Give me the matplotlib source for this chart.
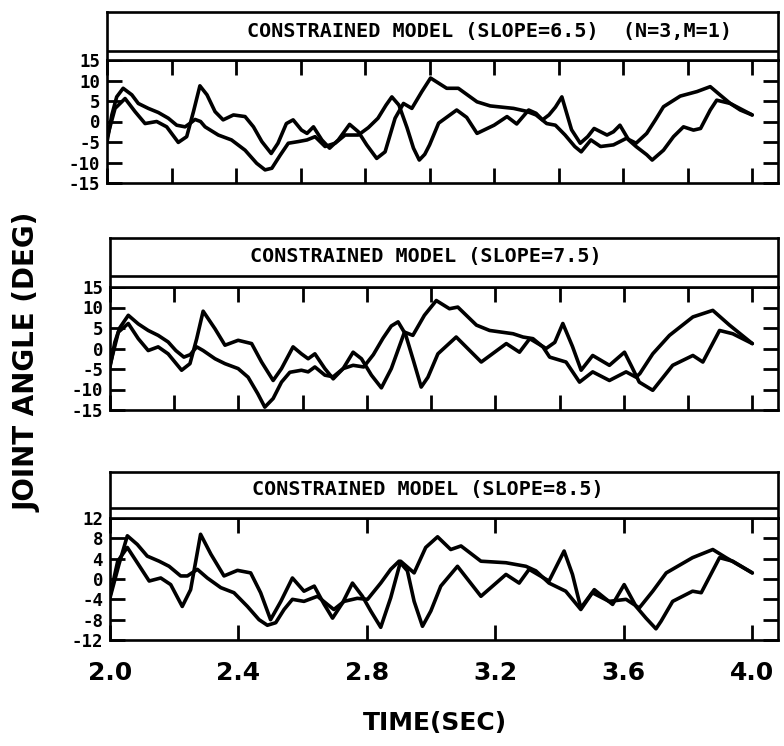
import matplotlib
matplotlib.use('Agg')
import matplotlib.pyplot as plt
from matplotlib.transforms import ScaledTranslation

# ---- data (time in s, joint angle in deg) ----
titles = ['CONSTRAINED MODEL (SLOPE=6.5)  (N=3,M=1)',
          'CONSTRAINED MODEL (SLOPE=7.5)',
          'CONSTRAINED MODEL (SLOPE=8.5)']

t_a1 = [2.00, 2.015, 2.03, 2.05, 2.077, 2.097, 2.128, 2.159, 2.19, 2.216, 2.242, 2.26, 2.273, 2.29, 2.304,
        2.345, 2.386, 2.428, 2.464, 2.49, 2.511, 2.537, 2.562, 2.593, 2.62, 2.645, 2.676, 2.707, 2.738, 2.779,
        2.81, 2.84, 2.865, 2.883, 2.905, 2.93, 2.95, 2.968, 2.985, 3.0, 3.028, 3.084, 3.115, 3.147, 3.2,
        3.24, 3.27, 3.307, 3.33, 3.35, 3.37, 3.39, 3.41, 3.44, 3.467, 3.49, 3.51, 3.55, 3.57, 3.59,
        3.617, 3.64, 3.673, 3.69, 3.725, 3.756, 3.787, 3.818, 3.84, 3.87, 3.89, 3.932, 3.963, 4.0]
a_a1 = [-5.0, 1.6, 6.0, 8.1, 6.5, 4.4, 3.2, 2.2, 0.8, -0.9, -1.3, -0.3, 0.5, 0.0, -1.3,
        -3.3, -4.5, -7.0, -10.2, -11.8, -11.4, -8.2, -5.3, -4.9, -4.5, -3.7, -6.1, -5.3, -3.3, -3.3,
        -1.5, 0.8, 4.0, 6.0, 4.0, -1.5, -6.5, -9.4, -8.0, -5.7, -0.4, 2.8, 1.0, -2.9, -0.9,
        1.2, -0.6, 2.8, 2.0, 0.4, 1.6, 3.5, 6.0, -2.0, -5.3, -3.7, -1.7, -3.3, -2.5, -0.9,
        -4.5, -6.1, -8.1, -9.4, -7.0, -3.7, -1.3, -2.1, -1.7, 2.8, 5.2, 4.4, 2.8, 1.6]
t_b1 = [2.0, 2.025, 2.056, 2.087, 2.118, 2.154, 2.185, 2.221, 2.247, 2.268, 2.288, 2.31, 2.335, 2.36, 2.392,
        2.428, 2.454, 2.48, 2.509, 2.53, 2.556, 2.577, 2.603, 2.62, 2.64, 2.666, 2.69, 2.717, 2.752, 2.779,
        2.805, 2.836, 2.862, 2.893, 2.919, 2.945, 2.976, 3.003, 3.053, 3.089, 3.147, 3.188, 3.26, 3.3, 3.33,
        3.363, 3.39, 3.42, 3.45, 3.47, 3.5, 3.53, 3.57, 3.61, 3.64, 3.673, 3.70, 3.725, 3.777, 3.829,
        3.87, 3.90, 3.932, 4.0]
a_b1 = [-4.0, 3.2, 5.6, 2.4, -0.5, 0.0, -1.3, -5.1, -3.7, 2.4, 8.7, 6.5, 2.4, 0.4, 1.6,
        1.2, -1.3, -4.9, -7.8, -5.3, -0.5, 0.4, -2.1, -2.9, -1.3, -4.5, -6.5, -4.5, -0.7, -2.5,
        -5.7, -9.0, -7.4, 0.8, 4.4, 3.2, 7.3, 10.6, 8.1, 8.1, 4.8, 3.8, 3.2, 2.5, 1.6,
        -0.5, -0.9, -3.3, -6.1, -7.4, -4.5, -6.1, -5.7, -4.1, -5.3, -2.9, 0.4, 3.6, 6.2, 7.3,
        8.5, 6.5, 4.4, 1.6]

t_a2 = [2.0, 2.015, 2.03, 2.057, 2.088, 2.119, 2.15, 2.181, 2.205, 2.23, 2.25, 2.27, 2.29, 2.327, 2.358,
        2.399, 2.43, 2.46, 2.482, 2.508, 2.534, 2.56, 2.596, 2.617, 2.638, 2.669, 2.695, 2.726, 2.757, 2.79,
        2.82, 2.85, 2.876, 2.897, 2.92, 2.945, 2.969, 2.99, 3.021, 3.078, 3.156, 3.234, 3.275, 3.307, 3.358,
        3.385, 3.41, 3.44, 3.467, 3.503, 3.555, 3.602, 3.625, 3.648, 3.69, 3.752, 3.815, 3.846, 3.898, 3.939,
        4.0]
a_a2 = [-4.5, 1.5, 5.0, 8.1, 6.0, 4.4, 3.2, 1.6, -0.5, -2.1, -1.5, 0.4, -0.5, -2.5, -3.7,
        -4.9, -7.0, -11.0, -14.3, -12.2, -8.2, -5.8, -5.3, -5.7, -4.5, -6.5, -6.9, -4.9, -4.1, -4.5,
        -1.5, 2.5, 5.5, 6.5, 3.5, -3.0, -9.4, -7.0, -1.3, 2.8, -3.3, 1.2, -0.9, 2.4, 0.0,
        1.5, 6.1, 0.5, -5.3, -1.7, -4.1, -0.9, -4.5, -8.2, -10.2, -4.1, -1.7, -3.3, 4.4, 3.6,
        1.2]
t_b2 = [2.0, 2.026, 2.057, 2.088, 2.119, 2.15, 2.181, 2.223, 2.249, 2.27, 2.29, 2.327, 2.358, 2.399, 2.441,
        2.472, 2.508, 2.534, 2.57, 2.596, 2.617, 2.638, 2.669, 2.695, 2.726, 2.757, 2.783, 2.814, 2.845, 2.876,
        2.917, 2.943, 2.979, 3.016, 3.057, 3.083, 3.141, 3.182, 3.255, 3.286, 3.317, 3.348, 3.369, 3.42, 3.462,
        3.503, 3.555, 3.607, 3.638, 3.65, 3.69, 3.742, 3.815, 3.877, 3.929, 4.0]
a_b2 = [-4.1, 4.0, 6.1, 2.4, -0.5, 0.4, -1.3, -5.3, -3.7, 2.4, 9.1, 4.8, 0.8, 2.0, 1.2,
        -3.3, -7.8, -4.9, 0.4, -1.3, -2.5, -1.3, -4.9, -7.4, -4.9, -0.9, -2.5, -6.5, -9.6, -4.9,
        4.0, 3.2, 8.1, 11.7, 9.7, 10.1, 5.7, 4.4, 3.6, 2.8, 2.4, 0.4, -2.1, -3.3, -8.2,
        -5.7, -7.8, -5.7, -7.0, -6.1, -1.3, 3.2, 7.7, 9.3, 5.7, 1.2]

t_a3 = [2.0, 2.028, 2.054, 2.085, 2.116, 2.153, 2.184, 2.22, 2.241, 2.272, 2.303, 2.345, 2.386, 2.428, 2.464,
        2.49, 2.516, 2.542, 2.568, 2.604, 2.646, 2.677, 2.697, 2.729, 2.77, 2.802, 2.843, 2.874, 2.9, 2.926,
        2.947, 2.973, 2.999, 3.03, 3.082, 3.155, 3.233, 3.274, 3.305, 3.367, 3.414, 3.44, 3.466, 3.508, 3.565,
        3.601, 3.638, 3.669, 3.7, 3.716, 3.752, 3.814, 3.841, 3.898, 3.939, 4.0]
a_a3 = [-3.7, 2.9, 8.5, 6.8, 4.5, 3.5, 2.5, 0.6, 0.6, 1.9, 0.2, -1.7, -2.7, -5.4, -8.0,
        -9.1, -8.6, -6.0, -4.0, -4.4, -3.4, -5.0, -6.0, -4.4, -3.8, -4.0, -0.8, 1.9, 3.5, 1.6,
        -4.4, -9.3, -6.3, -1.4, 2.5, -3.4, 0.9, -0.8, 1.9, -0.4, 5.5, 0.9, -5.7, -2.1, -5.0,
        -1.1, -5.4, -7.7, -9.8, -8.3, -4.4, -2.4, -2.7, 4.2, 3.5, 1.2]
t_b3 = [2.0, 2.024, 2.054, 2.085, 2.122, 2.158, 2.189, 2.225, 2.251, 2.267, 2.282, 2.314, 2.355, 2.397, 2.438,
        2.469, 2.5, 2.532, 2.568, 2.604, 2.636, 2.667, 2.693, 2.724, 2.755, 2.786, 2.812, 2.843, 2.874, 2.905,
        2.947, 2.983, 3.02, 3.061, 3.093, 3.155, 3.233, 3.295, 3.326, 3.367, 3.419, 3.466, 3.502, 3.554, 3.607,
        3.648, 3.69, 3.732, 3.814, 3.877, 3.918, 4.0]
a_b3 = [-3.4, 3.5, 6.2, 3.2, -0.4, 0.2, -1.1, -5.4, -2.1, 3.5, 8.8, 4.9, 0.6, 1.7, 1.2,
        -2.7, -8.0, -4.4, 0.2, -2.4, -1.4, -5.0, -7.7, -4.7, -0.8, -3.4, -6.3, -9.5, -3.7, 3.5,
        1.2, 6.2, 8.3, 5.8, 6.5, 3.5, 3.2, 2.5, 1.6, -0.8, -2.4, -6.0, -2.7, -4.4, -4.0,
        -5.7, -2.4, 1.2, 4.2, 5.8, 4.2, 1.2]

yticks_15 = [-15, -10, -5, 0, 5, 10, 15]
yticks_12 = [-12, -8, -4, 0, 4, 8, 12]
xticks_fine = [2.0, 2.2, 2.4, 2.6, 2.8, 3.0, 3.2, 3.4, 3.6, 3.8, 4.0]
xticks_coarse = [2.0, 2.4, 2.8, 3.2, 3.6, 4.0]
xtick_labels = ['2.0', '2.4', '2.8', '3.2', '3.6', '4.0']

W, H = 784, 746
fig = plt.figure(figsize=(W / 100, H / 100), dpi=100)
fig.patch.set_facecolor('white')


def frac(left, right, top, bottom):
    return [left / W, 1 - bottom / H, (right - left) / W, (bottom - top) / H]


# (plot box px, header top px, header inner line px, title x px)
layout = [
    ((107, 778, 60, 183), 12, 51, 247),
    ((110, 778, 287, 410), 238, 276, 250),
    ((110, 778, 518, 640), 472, 508, 252),
]
curves = [((t_a1, a_a1), (t_b1, a_b1)),
          ((t_a2, a_a2), (t_b2, a_b2)),
          ((t_a3, a_a3), (t_b3, a_b3))]
yticks_all = [yticks_15, yticks_15, yticks_12]

LW = 1.9
for i in range(3):
    (l, r, top, bot), htop, hline, tx = layout[i]
    ax = fig.add_axes(frac(l, r, top, bot))
    for (tt, aa) in curves[i]:
        ax.plot(tt, aa, color='black', lw=2.6, solid_joinstyle='round', solid_capstyle='round')
    yt = yticks_all[i]
    ax.set_ylim(yt[0], yt[-1])
    ax.set_xlim(2.0, 4.08)
    ax.set_yticks(yt)
    ax.set_yticklabels([str(v) for v in yt])
    for lbl in ax.get_yticklabels():
        lbl.set_family('DejaVu Sans Mono')
        lbl.set_fontsize(12.5)
        lbl.set_fontweight('bold')
    if i < 2:
        ax.set_xticks(xticks_fine)
        ax.set_xticklabels([])
    else:
        ax.set_xticks(xticks_coarse)
        ax.set_xticklabels(xtick_labels, fontsize=18, fontweight='bold')
        first = ax.get_xticklabels()[0]
        first.set_transform(first.get_transform() + ScaledTranslation(0.14, 0, fig.dpi_scale_trans))
    ax.tick_params(axis='both', direction='in', width=2, length=11,
                   top=True, right=True, labelright=False, labeltop=False)
    ax.tick_params(axis='y', pad=5)
    ax.tick_params(axis='x', pad=15)
    for s in ax.spines.values():
        s.set_linewidth(LW)

    # header box with double rule below it
    hax = fig.add_axes(frac(l, r, htop, top))
    hax.set_xlim(0, 1)
    hax.set_ylim(0, 1)
    hax.set_xticks([])
    hax.set_yticks([])
    for s in hax.spines.values():
        s.set_linewidth(LW)
    ly = (top - hline) / (top - htop)
    hax.axhline(ly, color='black', lw=LW)
    hax.text((tx - l) / (r - l), (1 + ly) / 2, titles[i], transform=hax.transAxes,
             ha='left', va='center', family='DejaVu Sans Mono', fontsize=14.5,
             fontweight='bold')

fig.text(435 / W, 1 - 723 / H, 'TIME(SEC)', ha='center', va='center',
         fontsize=18, fontweight='bold')
fig.text(28 / W, 1 - 362 / H, 'JOINT ANGLE (DEG)', ha='center', va='center',
         rotation=90, fontsize=20, fontweight='bold')

fig.savefig('out.png', dpi=100, facecolor='white')
